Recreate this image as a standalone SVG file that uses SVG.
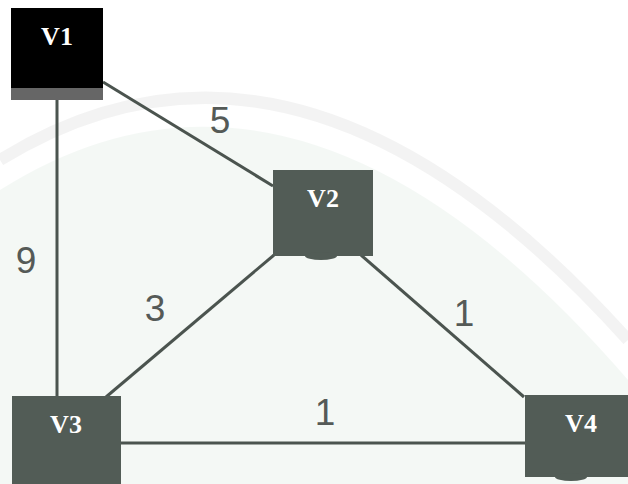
<svg xmlns="http://www.w3.org/2000/svg" width="628" height="484" viewBox="0 0 628 484">
<style>
.edge{stroke:#4b544f;stroke-width:3;fill:none}
.node{fill:#525c56}
.nl{font-family:"Liberation Serif","DejaVu Serif",serif;font-weight:bold;font-size:26px;fill:#ffffff;text-anchor:middle}
.wl{font-family:"Liberation Sans","DejaVu Sans",sans-serif;font-size:37px;fill:#555a57;text-anchor:middle}
</style>
<rect width="628" height="484" fill="#ffffff"/>
<g id="watermark" opacity="0.6">
<path d="M0,190 Q300,0 628,380 L628,484 L0,484 Z" fill="#eef5f0"/>
<path d="M0,160 Q300,-25 628,340" fill="none" stroke="#ececec" stroke-width="12"/>
</g>
<g id="connectors">
<line class="edge" x1="103" y1="82" x2="273" y2="186"/>
<line class="edge" x1="57" y1="100" x2="57" y2="396"/>
<line class="edge" x1="274" y1="255" x2="106" y2="397"/>
<line class="edge" x1="361" y1="255" x2="524" y2="397"/>
<line class="edge" x1="121" y1="443" x2="525" y2="443"/>
<text class="wl" x="220" y="133">5</text>
<text class="wl" x="26" y="273">9</text>
<text class="wl" x="155" y="321">3</text>
<text class="wl" x="464" y="326">1</text>
<text class="wl" x="325" y="425">1</text>
</g>
<g id="V1">
<rect x="11" y="8" width="92" height="92" fill="#000000"/>
<rect x="11" y="88" width="92" height="12" fill="#666666"/>
<text class="nl" x="57" y="45">V1</text>
</g>
<g id="V2">
<rect class="node" x="273" y="170" width="100" height="86"/>
<ellipse class="node" cx="321" cy="256" rx="16" ry="4"/>
<text class="nl" x="323" y="207">V2</text>
</g>
<g id="V3">
<rect class="node" x="12" y="396" width="109" height="88"/>
<text class="nl" x="66" y="433">V3</text>
</g>
<g id="V4">
<rect class="node" x="525" y="395" width="103" height="82"/>
<ellipse class="node" cx="571" cy="477" rx="16" ry="4"/>
<text class="nl" x="581" y="432">V4</text>
</g>
</svg>
